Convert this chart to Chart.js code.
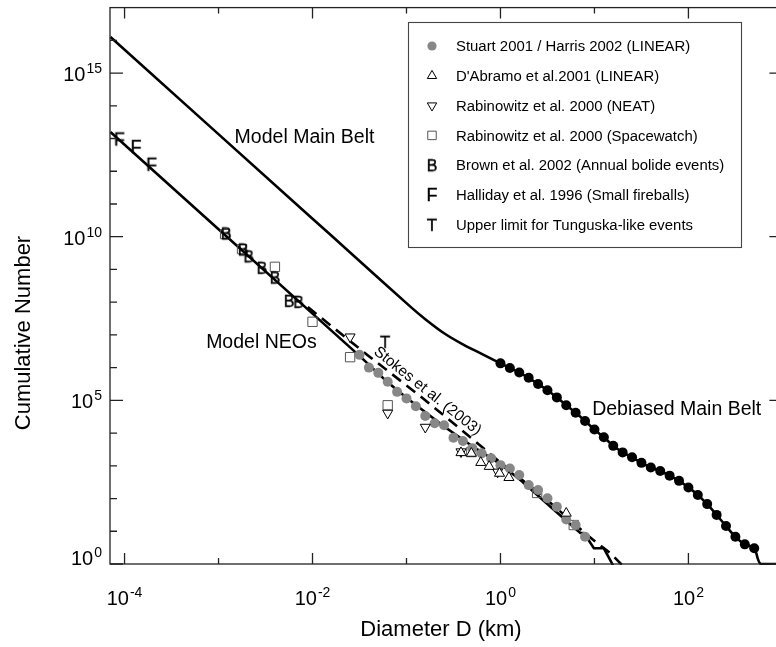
<!DOCTYPE html>
<html>
<head>
<meta charset="utf-8">
<script src="https://cdn.jsdelivr.net/npm/chart.js@4.4.1/dist/chart.umd.min.js"></script>
<style>
  html, body { margin: 0; padding: 0; background: #fff; overflow: hidden; }
  #wrap { width: 776px; height: 647px; overflow: hidden; }
</style>
</head>
<body>
<div id="wrap"><canvas id="sfd" width="790" height="647" style="width:790px;height:647px"></canvas></div>
<script>
const FONT = '"Liberation Sans", Arial, Helvetica, sans-serif';

// all values are log10: D in km, N cumulative
const stuartLogD = [-1.5, -1.4, -1.3, -1.2, -1.1, -1.0, -0.9, -0.8, -0.7, -0.6, -0.5, -0.4, -0.3,
                    -0.2, -0.1, 0.0, 0.1, 0.2, 0.3, 0.4, 0.5, 0.6, 0.7, 0.8, 0.9];
const stuartLogN = [6.39, 6.00, 5.84, 5.57, 5.26, 5.06, 4.82, 4.52, 4.30, 4.24, 3.86, 3.76, 3.54,
                    3.38, 3.23, 3.02, 2.92, 2.72, 2.41, 2.26, 2.01, 1.75, 1.36, 1.19, 0.83];

const dabramoLogD = [-0.42, -0.31, -0.21, -0.12, -0.01, 0.09, 0.70];
const dabramoLogN = [3.40, 3.38, 3.10, 2.98, 2.77, 2.64, 1.55];

const neatLogD = [-1.60, -1.20, -0.80, -0.42, -0.03];
const neatLogN = [6.94, 4.61, 4.18, 3.43, 2.81];

const spacewatchLogD = [-2.93, -2.75, -2.40, -2.00, -1.60, -1.20, -0.31, 0.39, 0.78];
const spacewatchLogN = [10.08, 9.62, 9.08, 7.40, 6.32, 4.85, 3.42, 2.17, 1.19];

const brownLogD = [-2.92, -2.74, -2.68, -2.54, -2.40, -2.25, -2.15];
const brownLogN = [10.10, 9.61, 9.40, 9.05, 8.75, 8.04, 8.01];

const hallidayLogD = [-4.055, -3.878, -3.712];
const hallidayLogN = [12.97, 12.74, 12.20];

const tunguskaLogD = [-1.227];
const tunguskaLogN = [6.79];

const debiasedLogD = [0.0, 0.1, 0.2, 0.3, 0.4, 0.5, 0.6, 0.7, 0.8, 0.9, 1.0, 1.1, 1.2, 1.3,
                      1.4, 1.5, 1.6, 1.7, 1.8, 1.9, 2.0, 2.1, 2.2, 2.3, 2.4, 2.5, 2.6, 2.7];
const debiasedLogN = [6.13, 5.99, 5.85, 5.69, 5.50, 5.31, 5.09, 4.85, 4.62, 4.37, 4.11, 3.87, 3.61, 3.41,
                      3.26, 3.09, 2.95, 2.84, 2.70, 2.54, 2.34, 2.11, 1.83, 1.50, 1.16, 0.83, 0.60, 0.48];

// model curves
const mainBeltLogD = [-4.15, -2.0, -1.6, -0.95, -0.8, -0.6, -0.4, -0.2].concat(debiasedLogD, [2.77, 3.0]);
const mainBeltLogN = [16.1, 10.55, 9.52, 7.84, 7.48, 7.05, 6.71, 6.42].concat(debiasedLogN, [0.0, 0.0]);

const neoLogD = [-4.15, -3.0, -2.0, -1.5, -1.2, -1.0, -0.6, -0.31, 0.0, 0.215, 0.571, 0.85, 0.89, 0.994, 1.10, 1.19, 1.23];
const neoLogN = [13.2, 10.23, 7.65, 6.36, 5.55, 5.08, 4.20, 3.62, 3.05, 2.56, 1.65, 0.95, 0.94, 0.48, 0.48, 0.0, -0.3];

const stokesLogD = [-2.05, -1.4, -0.85, -0.45, 0.0, 0.5, 0.92, 1.01, 1.17, 1.29];
const stokesLogN = [7.85, 6.35, 5.12, 4.18, 3.10, 1.95, 0.89, 0.68, 0.33, -0.02];

// axis decades
const xDecades = [-4, -3, -2, -1, 0, 1, 2];
const xLabelDecades = [-4, -2, 0, 2];
const yDecades = [0, 1, 2, 3, 4, 5, 6, 7, 8, 9, 10, 11, 12, 13, 14, 15, 16];
const yLabelDecades = [0, 5, 10, 15];

const pts = (lx, ly) => lx.map((v, i) => ({ x: Math.pow(10, v), y: Math.pow(10, ly[i]) }));

function letterMarker(ch, size) {
  const c = document.createElement('canvas');
  c.width = 22; c.height = 22;
  const g = c.getContext('2d');
  g.font = size + 'px ' + FONT;
  g.fillStyle = '#000';
  g.strokeStyle = '#000';
  g.lineWidth = 0.4;
  g.textAlign = 'center';
  g.textBaseline = 'alphabetic';
  g.fillText(ch, 11, 11 + size * 0.36);
  g.strokeText(ch, 11, 11 + size * 0.36);
  return c;
}

const markB = letterMarker('B', 16);
const markF = letterMarker('F', 18);
const markT = letterMarker('T', 17);

function markerSet(label, lx, ly, style, extra) {
  return Object.assign({
    label: label,
    data: pts(lx, ly),
    showLine: false,
    pointStyle: style,
    pointRadius: 4.6,
    pointBorderWidth: 1,
    pointBorderColor: '#000',
    pointBackgroundColor: '#fff',
    inLegend: true
  }, extra);
}

function lineSet(lx, ly, extra) {
  return Object.assign({
    data: pts(lx, ly),
    showLine: true,
    pointRadius: 0,
    borderColor: '#000',
    borderWidth: 2.6,
    tension: 0,
    clip: 1,
    order: 10
  }, extra);
}

const datasets = [
  markerSet('Stuart 2001 / Harris 2002 (LINEAR)', stuartLogD, stuartLogN, 'circle',
    { pointRadius: 5, pointBorderWidth: 0, pointBackgroundColor: '#878787', order: 2 }),
  markerSet("D'Abramo et al.2001 (LINEAR)", dabramoLogD, dabramoLogN, 'triangle',
    { pointRadius: 5.8, order: 1 }),
  markerSet('Rabinowitz et al. 2000 (NEAT)', neatLogD, neatLogN, 'triangle',
    { pointRadius: 5.8, pointRotation: 180, order: 1 }),
  markerSet('Rabinowitz et al. 2000 (Spacewatch)', spacewatchLogD, spacewatchLogN, 'rect',
    { pointRadius: 6.6, pointBorderColor: '#555', pointBackgroundColor: 'rgba(255,255,255,0)', order: 3 }),
  markerSet('Brown et al. 2002 (Annual bolide events)', brownLogD, brownLogN, markB, { order: 2 }),
  markerSet('Halliday et al. 1996 (Small fireballs)', hallidayLogD, hallidayLogN, markF, { order: 2 }),
  markerSet('Upper limit for Tunguska-like events', tunguskaLogD, tunguskaLogN, markT, { order: 2 }),
  markerSet('Debiased Main Belt', debiasedLogD, debiasedLogN, 'circle',
    { pointRadius: 5, pointBorderWidth: 0, pointBackgroundColor: '#000', order: 1, inLegend: false }),
  lineSet(mainBeltLogD, mainBeltLogN, { label: 'Model Main Belt', tension: 0.3 }),
  lineSet(neoLogD, neoLogN, { label: 'Model NEOs' }),
  lineSet(stokesLogD, stokesLogN, { label: 'Stokes et al. (2003)', borderDash: [11, 7], borderWidth: 2.6 })
];

function powerLabel(ctx, exp, x, y, align) {
  ctx.font = '20px ' + FONT;
  const wb = ctx.measureText('10').width;
  ctx.font = '14px ' + FONT;
  const we = ctx.measureText(String(exp)).width;
  const total = wb + 1 + we;
  const left = align === 'center' ? x - total / 2 : x - total;
  ctx.textAlign = 'left';
  ctx.textBaseline = 'alphabetic';
  ctx.font = '20px ' + FONT;
  ctx.fillText('10', left, y);
  ctx.font = '14px ' + FONT;
  ctx.fillText(String(exp), left + wb + 1, y - 8);
}

const decorations = {
  id: 'decorations',
  afterDraw(chart) {
    const { ctx, chartArea: a, scales: { x, y } } = chart;
    const px = v => x.getPixelForValue(Math.pow(10, v));
    const py = v => y.getPixelForValue(Math.pow(10, v));
    ctx.save();
    ctx.fillStyle = '#000';

    // frame and inward ticks
    ctx.strokeStyle = '#222';
    ctx.lineWidth = 1.3;
    ctx.strokeRect(a.left, a.top, a.right - a.left, a.bottom - a.top);
    ctx.beginPath();
    xDecades.forEach(e => {
      const len = e % 2 === 0 ? 11 : 6;
      ctx.moveTo(px(e), a.bottom); ctx.lineTo(px(e), a.bottom - len);
      ctx.moveTo(px(e), a.top); ctx.lineTo(px(e), a.top + len);
    });
    yDecades.forEach(e => {
      const major = e % 5 === 0;
      ctx.moveTo(a.left, py(e)); ctx.lineTo(a.left + (major ? 13 : 7), py(e));
      if (major) { ctx.moveTo(a.right, py(e)); ctx.lineTo(a.right - 13, py(e)); }
    });
    ctx.stroke();

    // tick labels
    xLabelDecades.forEach(e => powerLabel(ctx, e, px(e), a.bottom + 41, 'center'));
    yLabelDecades.forEach(e => powerLabel(ctx, e, a.left - 8, Math.min(py(e) + 8, a.bottom + 1), 'right'));

    // axis titles
    ctx.font = '22px ' + FONT;
    ctx.textAlign = 'center';
    ctx.textBaseline = 'alphabetic';
    ctx.fillText('Diameter D (km)', 441, 636);
    ctx.save();
    ctx.translate(30, 333);
    ctx.rotate(-Math.PI / 2);
    ctx.fillText('Cumulative Number', 0, 0);
    ctx.restore();

    // curve annotations
    ctx.textAlign = 'left';
    ctx.font = '19.5px ' + FONT;
    ctx.fillText('Model Main Belt', px(-2.829), py(12.87));
    ctx.fillText('Model NEOs', px(-3.132), py(6.60));
    ctx.fillText('Debiased Main Belt', px(0.976), py(4.55));
    ctx.save();
    ctx.translate(px(-1.40) + 4, py(6.29) - 5);
    ctx.rotate(38.5 * Math.PI / 180);
    ctx.font = '15.3px ' + FONT;
    ctx.fillText('Stokes et al. (2003)', 0, 0);
    ctx.restore();

    // legend box
    const lx = 408, ly = 22, lw = 333, lh = 225;
    ctx.fillStyle = '#fff';
    ctx.fillRect(lx, ly, lw, lh);
    ctx.strokeStyle = '#444';
    ctx.lineWidth = 1.1;
    ctx.strokeRect(lx + 0.5, ly + 0.5, lw, lh);
    const entries = chart.data.datasets.filter(d => d.inLegend);
    entries.forEach((d, i) => {
      const rowY = 46 + i * 29.8;
      ctx.fillStyle = d.pointBackgroundColor;
      ctx.strokeStyle = d.pointBorderColor;
      ctx.lineWidth = d.pointBorderWidth;
      Chart.helpers.drawPoint(ctx, {
        pointStyle: d.pointStyle,
        radius: d.pointStyle === 'circle' ? 4.6 : d.pointStyle === 'rect' ? 6 : 5.4,
        rotation: d.pointRotation || 0,
        borderWidth: d.pointBorderWidth
      }, 432, rowY);
      ctx.fillStyle = '#000';
      ctx.font = '14.9px ' + FONT;
      ctx.textBaseline = 'middle';
      ctx.fillText(d.label, 456, rowY + 1);
    });
    ctx.restore();
  }
};

new Chart(document.getElementById('sfd'), {
  type: 'scatter',
  data: { datasets: datasets },
  options: {
    responsive: false,
    animation: false,
    devicePixelRatio: 1,
    layout: { padding: { left: 110, right: 3.6, top: 7, bottom: 83 } },
    plugins: { legend: { display: false }, tooltip: { enabled: false } },
    scales: {
      x: { type: 'logarithmic', min: Math.pow(10, -4.15), max: 1000, display: false },
      y: { type: 'logarithmic', min: 1, max: 1e17, display: false }
    }
  },
  plugins: [decorations]
});
</script>
</body>
</html>
